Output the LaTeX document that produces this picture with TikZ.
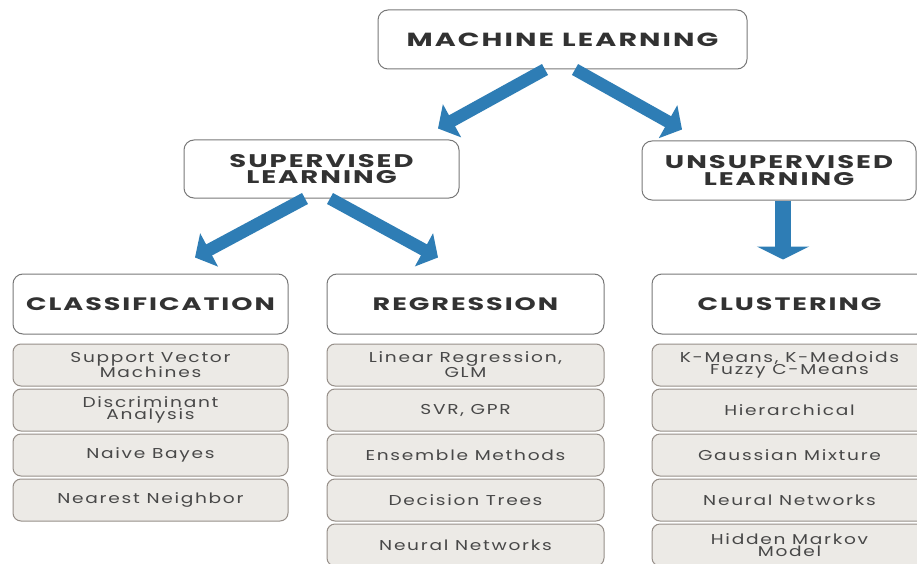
\documentclass[tikz,border=0pt]{standalone}
\usepackage{fontspec}
\setmainfont{Poppins}
\newfontfamily\hdrfont{Poppins}[FakeStretch=1.5,LetterSpace=11]
\newfontfamily\subfont{Poppins}[FakeStretch=1.3,LetterSpace=12]
\usetikzlibrary{arrows.meta,calc}
\definecolor{arrblue}{RGB}{46,125,181}
\definecolor{hdrborder}{RGB}{120,120,120}
\definecolor{subfill}{RGB}{236,234,230}
\definecolor{subborder}{RGB}{150,143,137}
\definecolor{hdrtext}{RGB}{50,50,50}
\definecolor{subtext}{RGB}{72,72,72}
\begin{document}
\begin{tikzpicture}[x=1pt,y=-1pt,
  hdr/.style={draw=hdrborder, line width=1pt, fill=white, rounded corners=10pt,
    text=hdrtext, align=center, inner sep=0pt},
  topfont/.style={font=\hdrfont\bfseries\fontsize{19}{17}\selectfont},
  midfont/.style={font=\hdrfont\bfseries\fontsize{18.3}{16.8}\selectfont},
  lowfont/.style={font=\hdrfont\bfseries\fontsize{18}{16}\selectfont},
  subbox/.style={draw=subborder, line width=1pt, fill=subfill, rounded corners=8pt,
    text=subtext, font=\subfont\fontsize{14.3}{12.5}\selectfont, align=center, inner sep=0pt,
    minimum height=42pt},
  arr/.style={draw=arrblue, line width=12.5pt, -{Triangle[width=37pt,length=16pt]}},
  varr/.style={draw=arrblue, line width=16pt, -{Triangle[width=52pt,length=13pt]}}]
\useasboundingbox (0,0) rectangle (917,564);
\clip (0,0) rectangle (917,564);
\fill[white] (0,0) rectangle (917,564);
% headers
\node[hdr, topfont, minimum width=369pt, minimum height=59pt] (ml) at (562.5,39.5) {MACHINE LEARNING};
\node[hdr, midfont, minimum width=275pt, minimum height=58pt] (sup) at (321.5,169) {SUPERVISED\\LEARNING};
\node[hdr, midfont, minimum width=274pt, minimum height=59pt] (uns) at (779,170.5) {UNSUPERVISED\\LEARNING};
\node[hdr, lowfont, minimum width=275pt, minimum height=60pt] (cls) at (150.5,304) {CLASSIFICATION};
\node[hdr, lowfont, minimum width=277pt, minimum height=60pt] (reg) at (465.5,304) {REGRESSION};
\node[hdr, lowfont, minimum width=275pt, minimum height=60pt] (clu) at (789.5,304) {CLUSTERING};
% classification
\node[subbox, minimum width=275pt] (c1) at (150.5,365) {Support Vector\\Machines};
\node[subbox, minimum width=275pt] (c2) at (150.5,410) {Discriminant\\Analysis};
\node[subbox, minimum width=275pt] (c3) at (150.5,455) {Naive Bayes};
\node[subbox, minimum width=275pt] (c4) at (150.5,500) {Nearest Neighbor};
% regression
\node[subbox, minimum width=277pt] (r1) at (465.5,365) {Linear Regression,\\GLM};
\node[subbox, minimum width=277pt] (r2) at (465.5,410) {SVR, GPR};
\node[subbox, minimum width=277pt] (r3) at (465.5,455) {Ensemble Methods};
\node[subbox, minimum width=277pt] (r4) at (465.5,500) {Decision Trees};
\node[subbox, minimum width=277pt] (r5) at (465.5,545) {Neural Networks};
% clustering
\node[subbox, minimum width=275pt] (k1) at (789.5,365) {K-Means, K-Medoids\\Fuzzy C-Means};
\node[subbox, minimum width=275pt] (k2) at (789.5,410) {Hierarchical};
\node[subbox, minimum width=275pt] (k3) at (789.5,455) {Gaussian Mixture};
\node[subbox, minimum width=275pt] (k4) at (789.5,500) {Neural Networks};
\node[subbox, minimum width=275pt] (k5) at (789.5,545) {Hidden Markov\\Model};
% arrows
\draw[arr] ([xshift=-17.5pt]ml.south) -- ([xshift=116.5pt,yshift=11pt]sup.north);
\draw[arr] ([xshift=12.5pt]ml.south) -- ([xshift=-97pt,yshift=11pt]uns.north);
\draw[arr] ([xshift=-16.5pt]sup.south) -- ([xshift=44.5pt,yshift=16pt]cls.north);
\draw[arr] ([xshift=8.5pt]sup.south) -- ([xshift=-27.5pt,yshift=16pt]reg.north);
\draw[varr] ([xshift=4pt]uns.south) -- ([xshift=-6.5pt,yshift=14pt]clu.north);
\end{tikzpicture}
\end{document}
